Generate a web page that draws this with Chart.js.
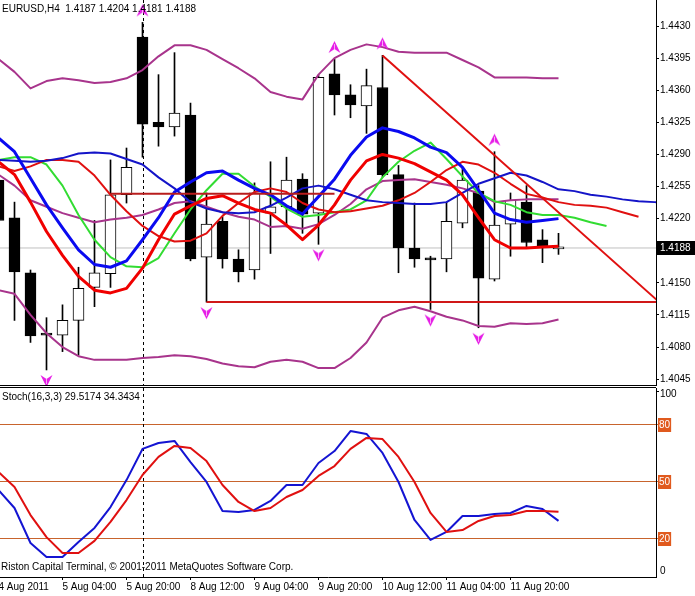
<!DOCTYPE html>
<html><head><meta charset="utf-8">
<script src="https://cdn.jsdelivr.net/npm/chart.js@4.4.0/dist/chart.umd.min.js"></script>
<style>
html,body{margin:0;padding:0;background:#fff;}
#wrap{position:relative;width:695px;height:596px;overflow:hidden;background:#fff;}
#main{position:absolute;left:0;top:0;}
#stoch{position:absolute;left:0;top:387px;}
</style></head><body>
<div id="wrap">
<canvas id="main" width="695" height="386"></canvas>
<canvas id="stoch" width="695" height="209"></canvas>
</div>
<script>
// ---------------- data ----------------
const symbolName = 'EURUSD,H4';
const barTimes = ['4 Aug 12:00','4 Aug 16:00','4 Aug 20:00','5 Aug 00:00','5 Aug 04:00','5 Aug 08:00','5 Aug 12:00','5 Aug 16:00','5 Aug 20:00',
 '8 Aug 00:00','8 Aug 04:00','8 Aug 08:00','8 Aug 12:00','8 Aug 16:00','8 Aug 20:00','9 Aug 00:00','9 Aug 04:00','9 Aug 08:00','9 Aug 12:00','9 Aug 16:00','9 Aug 20:00',
 '10 Aug 00:00','10 Aug 04:00','10 Aug 08:00','10 Aug 12:00','10 Aug 16:00','10 Aug 20:00','11 Aug 00:00','11 Aug 04:00','11 Aug 08:00','11 Aug 12:00','11 Aug 16:00','11 Aug 20:00',
 '12 Aug 00:00','12 Aug 04:00','12 Aug 08:00'];
const openP  = [1.4262,1.4221,1.4161,1.4094,1.4093,1.4109,1.4145,1.4160,1.4246,1.4418,1.4325,1.4320,1.4333,1.4178,1.4217,1.4176,1.4164,1.4226,1.4233,1.4263,1.4226,1.4378,1.4355,1.4343,1.4363,1.4268,1.4188,1.4177,1.4176,1.4215,1.4250,1.4154,1.4214,1.4238,1.4197,1.4187];
const highP  = [1.4275,1.4238,1.4164,1.4112,1.4126,1.4167,1.4218,1.4284,1.4297,1.4434,1.4377,1.4401,1.4346,1.4248,1.4222,1.4186,1.4259,1.4282,1.4287,1.4269,1.4376,1.4394,1.4366,1.4383,1.4398,1.4278,1.4237,1.4179,1.4238,1.4275,1.4256,1.4293,1.4248,1.4256,1.4208,1.4204];
const lowP   = [1.4210,1.4109,1.4085,1.4055,1.4075,1.4071,1.4124,1.4145,1.4237,1.4287,1.4299,1.4310,1.4174,1.4129,1.4166,1.4151,1.4154,1.4182,1.4211,1.4204,1.4192,1.4333,1.4330,1.4313,1.4265,1.4161,1.4167,1.4121,1.4162,1.4210,1.4101,1.4152,1.4179,1.4189,1.4172,1.4181];
const closeP = [1.4218,1.4162,1.4092,1.4093,1.4109,1.4144,1.4161,1.4246,1.4276,1.4323,1.4320,1.4335,1.4176,1.4214,1.4176,1.4162,1.4248,1.4233,1.4262,1.4225,1.4374,1.4355,1.4344,1.4365,1.4268,1.4188,1.4176,1.4175,1.4217,1.4262,1.4155,1.4213,1.4240,1.4194,1.4190,1.4188];

const bbUpper  = [1.4394,1.4380,1.4362,1.4370,1.4373,1.4371,1.4368,1.4369,1.4373,1.4382,1.4397,1.4409,1.4409,1.4404,1.4394,1.4384,1.4373,1.4358,1.4353,1.4350,1.4377,1.4395,1.4404,1.4410,1.4407,1.4402,1.4401,1.4401,1.4401,1.4393,1.4385,1.4374,1.4374,1.4374,1.4373,1.4373];
const bbMiddle = [1.4268,1.4256,1.4240,1.4233,1.4226,1.4221,1.4216,1.4219,1.4221,1.4224,1.4230,1.4237,1.4239,1.4233,1.4227,1.4222,1.4219,1.4211,1.4212,1.4209,1.4214,1.4224,1.4236,1.4252,1.4261,1.4262,1.4263,1.4260,1.4257,1.4253,1.4248,1.4238,1.4240,1.4241,1.4241,1.4241];
const bbLower  = [1.4142,1.4138,1.4115,1.4095,1.4080,1.4070,1.4066,1.4066,1.4066,1.4068,1.4069,1.4071,1.4070,1.4067,1.4062,1.4059,1.4058,1.4064,1.4066,1.4064,1.4057,1.4057,1.4068,1.4085,1.4112,1.4120,1.4124,1.4119,1.4113,1.4109,1.4103,1.4102,1.4106,1.4105,1.4106,1.4110];
const maBlue   = [1.4308,1.4293,1.4264,1.4235,1.4210,1.4186,1.4170,1.4167,1.4174,1.4197,1.4221,1.4249,1.4260,1.4270,1.4272,1.4262,1.4253,1.4246,1.4234,1.4225,1.4244,1.4263,1.4289,1.4309,1.4319,1.4315,1.4308,1.4298,1.4292,1.4276,1.4251,1.4226,1.4219,1.4216,1.4218,1.4220];
const maRed    = [1.4282,1.4268,1.4238,1.4206,1.4180,1.4157,1.4142,1.4139,1.4144,1.4166,1.4197,1.4225,1.4234,1.4242,1.4245,1.4237,1.4230,1.4226,1.4213,1.4197,1.4213,1.4235,1.4262,1.4283,1.4290,1.4286,1.4280,1.4271,1.4262,1.4246,1.4221,1.4197,1.4188,1.4188,1.4189,1.4190];
// Alligator lines, as displayed (already shifted forward)
const jaw   = [1.4284,1.4283,1.4282,1.4283,1.4286,1.4291,1.4292,1.4291,1.4285,1.4279,1.4265,1.4253,1.4238,1.4231,1.4227,1.4226,1.4227,1.4234,1.4243,1.4253,1.4256,1.4252,1.4246,1.4240,1.4238,1.4237,1.4236,1.4236,1.4238,1.4248,1.4258,1.4264,1.4270,1.4267,1.4260,1.4252,1.4250,1.4246,1.4244,1.4241,1.4239,1.4238,1.4237,1.4237];
const teeth = [1.4277,1.4272,1.4277,1.4284,1.4284,1.4282,1.4267,1.4246,1.4228,1.4212,1.4201,1.4195,1.4196,1.4204,1.4223,1.4237,1.4249,1.4253,1.4249,1.4237,1.4230,1.4227,1.4228,1.4231,1.4234,1.4240,1.4248,1.4260,1.4273,1.4282,1.4279,1.4270,1.4258,1.4247,1.4243,1.4238,1.4235,1.4234,1.4232,1.4227,1.4222];
const lips  = [1.4284,1.4287,1.4287,1.4279,1.4256,1.4224,1.4197,1.4178,1.4168,1.4167,1.4177,1.4204,1.4230,1.4251,1.4269,1.4269,1.4255,1.4244,1.4231,1.4222,1.4224,1.4227,1.4230,1.4240,1.4265,1.4282,1.4294,1.4303,1.4285,1.4266,1.4248,1.4239,1.4235,1.4227,1.4224,1.4224,1.4221,1.4216,1.4212];

const fractalUpBars   = [9, 21, 24, 31];
const fractalDownBars = [3, 13, 20, 27, 30];

const trendBars   = [24, 42];
const trendPrices = [1.4398, 1.4118];
const supportBars = [13, 44];
const supportPrice = 1.4129;
const resistBars  = [7, 21];
const resistPrice = 1.4247;
const bidPrice = 1.4188;
const separatorBar = 9;

const priceTicks = [1.4045,1.4080,1.4115,1.4150,1.4185,1.4220,1.4255,1.4290,1.4325,1.4360,1.4395,1.4430];
const timeTickBars   = [0,4,8,12,16,20,24,28,32];
const timeTickLabels = ['4 Aug 2011','5 Aug 04:00','5 Aug 20:00','8 Aug 12:00','9 Aug 04:00','9 Aug 20:00','10 Aug 12:00','11 Aug 04:00','11 Aug 20:00'];

const stochK = [45.8,36.3,17.9,10.5,10.5,18.4,25.8,36.8,51.0,67.4,70.5,71.6,60.5,50.0,34.7,34.2,35.3,40.0,48.4,48.4,60.0,66.3,76.8,75.3,65.3,50.0,30.0,19.5,23.7,32.1,32.1,33.2,33.7,37.4,35.8,29.5174];
const stochD = [55.3,47.4,32.6,21.0,12.6,12.6,19.0,29.0,40.5,53.7,63.2,69.0,67.9,61.0,48.4,39.5,34.7,36.3,42.1,45.8,53.2,58.4,67.4,73.2,72.6,63.2,50.0,33.7,23.7,24.7,29.5,32.1,32.6,34.7,34.7,34.3434];
const stochLevels = [20, 50, 80];
const stochParams = '16,3,3';
const copyright = 'Riston Capital Terminal, \u00A9 2001-2011 MetaQuotes Software Corp.';

// ---------------- view ----------------
const X_MIN = 0.09375, X_MAX = 41.09375;
const Y_MIN = 1.40375, Y_MAX = 1.44584;
const FONT = '"Liberation Sans", Arial, sans-serif';
Chart.defaults.font.family = FONT;
Chart.defaults.font.size = 10;
Chart.defaults.color = '#000';

const pts = arr => arr.map((v, j) => ({x: j, y: v}));
const seg = (bars, vals) => bars.map((b, k) => ({x: b, y: vals[k]}));

function arrowImg(up) {
  const c = document.createElement('canvas');
  c.width = 13; c.height = 48;
  const g = c.getContext('2d');
  g.translate(6.5, up ? 24 - 12 : 24 + 11);
  if (!up) g.scale(1, -1);
  g.beginPath();
  g.moveTo(0, -6); g.lineTo(6, 6); g.lineTo(0, 2); g.lineTo(-6, 6); g.closePath();
  g.fillStyle = '#E61EE6'; g.fill();
  g.strokeStyle = '#F7A8F7'; g.lineWidth = 1;
  g.beginPath(); g.moveTo(0, -3); g.lineTo(0, 2); g.stroke();
  return c;
}
const upArrow = arrowImg(true), downArrow = arrowImg(false);

const lineDs = (data, color, width, order) => ({type: 'line', data, borderColor: color, borderWidth: width,
  pointRadius: 0, tension: 0, fill: false, order, clip: 0, borderJoinStyle: 'round'});

const mainDecor = {
  id: 'mainDecor',
  beforeDatasetsDraw(chart) {
    const {ctx, chartArea: ca, scales: {x}} = chart;
    const sx = Math.round(x.getPixelForValue(separatorBar)) + 0.5;
    ctx.save(); ctx.strokeStyle = '#000'; ctx.lineWidth = 1; ctx.setLineDash([3, 3]);
    ctx.beginPath(); ctx.moveTo(sx, ca.top); ctx.lineTo(sx, ca.bottom); ctx.stroke(); ctx.restore();
  },
  afterDraw(chart) {
    const {ctx, chartArea: ca, scales: {y}} = chart;
    ctx.save();
    const last = openP.length - 1;
    ctx.font = '10px ' + FONT; ctx.fillStyle = '#000'; ctx.textBaseline = 'middle'; ctx.textAlign = 'left';
    ctx.fillText(symbolName + '  ' + [openP[last], highP[last], lowP[last], closeP[last]].map(v => v.toFixed(4)).join(' '), 2, 9);
    const by = Math.round(y.getPixelForValue(bidPrice));
    ctx.fillStyle = '#000'; ctx.fillRect(ca.right + 1, by - 7, 38, 14);
    ctx.fillStyle = '#fff'; ctx.fillText(bidPrice.toFixed(4), ca.right + 4, by);
    ctx.strokeStyle = '#000'; ctx.lineWidth = 1;
    ctx.beginPath(); ctx.moveTo(0, ca.bottom - 0.5); ctx.lineTo(ca.right, ca.bottom - 0.5); ctx.stroke();
    ctx.restore();
  }
};

new Chart(document.getElementById('main'), {
  type: 'bar',
  data: { datasets: [
    lineDs([{x: X_MIN - 1, y: bidPrice}, {x: X_MAX + 1, y: bidPrice}], '#C0C0C0', 1, 100),
    {type: 'bar', data: barTimes.map((t, j) => ({x: j, y: [lowP[j], highP[j]]})), backgroundColor: '#000', borderWidth: 0,
      barThickness: 1, grouped: false, order: 90, clip: 0},
    {type: 'bar', data: barTimes.map((t, j) => ({x: j, y: [Math.min(openP[j], closeP[j]), Math.max(openP[j], closeP[j])]})),
      backgroundColor: barTimes.map((t, j) => closeP[j] >= openP[j] ? '#FFFFFF' : '#000000'),
      borderColor: '#000', borderWidth: 1, borderSkipped: false, barThickness: 11, minBarLength: 2, grouped: false, order: 80, clip: 0},
    lineDs(pts(bbUpper), '#A8348C', 2, 50),
    lineDs(pts(bbMiddle), '#A8348C', 2, 50),
    lineDs(pts(bbLower), '#A8348C', 2, 50),
    lineDs(pts(jaw), '#1414C8', 2, 40),
    lineDs(pts(teeth), '#E01010', 2, 40),
    lineDs(pts(lips), '#32DC32', 2, 40),
    lineDs(pts(maRed), '#F00000', 3, 31),
    lineDs(pts(maBlue), '#0A0AF0', 3, 30),
    lineDs(seg(resistBars, [resistPrice, resistPrice]), '#B81C1C', 2, 20),
    lineDs(seg(supportBars, [supportPrice, supportPrice]), '#D01818', 2, 20),
    lineDs(seg(trendBars, trendPrices), '#E01010', 2, 20),
    {type: 'line', data: fractalUpBars.map(b => ({x: b, y: highP[b]})), showLine: false, pointStyle: upArrow, order: 10, clip: false},
    {type: 'line', data: fractalDownBars.map(b => ({x: b, y: lowP[b]})), showLine: false, pointStyle: downArrow, order: 10, clip: false}
  ]},
  options: {
    responsive: false, animation: false, events: [],
    layout: {padding: 0, autoPadding: false},
    plugins: {legend: {display: false}, tooltip: {enabled: false}},
    scales: {
      x: {type: 'linear', display: false, min: X_MIN, max: X_MAX, offset: false, grid: {offset: false}},
      y: {type: 'linear', position: 'right', min: Y_MIN, max: Y_MAX, beginAtZero: false,
        afterBuildTicks: s => { s.ticks = priceTicks.map(v => ({value: v})); },
        afterFit: s => { s.width = 39; s.paddingTop = 0; s.paddingBottom = 0; },
        ticks: {callback: v => Number(v).toFixed(4), padding: 1, autoSkip: false, color: '#000'},
        grid: {drawOnChartArea: false, drawTicks: true, tickLength: 3, color: '#000'},
        border: {display: true, color: '#000', width: 1}}
    }
  },
  plugins: [mainDecor]
});

const stochDecor = {
  id: 'stochDecor',
  beforeDatasetsDraw(chart) {
    const {ctx, chartArea: ca, scales: {x}} = chart;
    const sx = Math.round(x.getPixelForValue(separatorBar)) + 0.5;
    ctx.save(); ctx.strokeStyle = '#000'; ctx.lineWidth = 1; ctx.setLineDash([3, 3]);
    ctx.beginPath(); ctx.moveTo(sx, ca.top); ctx.lineTo(sx, ca.bottom); ctx.stroke(); ctx.restore();
  },
  afterDraw(chart) {
    const {ctx, chartArea: ca} = chart;
    ctx.save();
    ctx.strokeStyle = '#000'; ctx.lineWidth = 1;
    ctx.beginPath(); ctx.moveTo(0, 0.5); ctx.lineTo(ca.right, 0.5); ctx.stroke();
    ctx.beginPath(); ctx.moveTo(ca.right, ca.top + 3.5); ctx.lineTo(ca.right + 3, ca.top + 3.5); ctx.stroke();
    ctx.font = '10px ' + FONT; ctx.fillStyle = '#000'; ctx.textBaseline = 'middle'; ctx.textAlign = 'left';
    const n = stochK.length - 1;
    ctx.fillText('Stoch(' + stochParams + ') ' + stochK[n].toFixed(4) + ' ' + stochD[n].toFixed(4), 2, 10);
    ctx.fillText(copyright, 1, ca.bottom - 10);
    ctx.fillText('100', ca.right + 4, ca.top + 6);
    ctx.fillText('0', ca.right + 4, ca.bottom - 6);
    ctx.restore();
  }
};

new Chart(document.getElementById('stoch'), {
  type: 'line',
  data: { datasets: [
    lineDs(pts(stochK), '#1414D2', 2, 20),
    lineDs(pts(stochD), '#E01010', 2, 10)
  ]},
  options: {
    responsive: false, animation: false, events: [],
    layout: {padding: {top: 1, left: 0, right: 0, bottom: 0}, autoPadding: false},
    plugins: {legend: {display: false}, tooltip: {enabled: false}},
    scales: {
      x: {type: 'linear', position: 'bottom', min: X_MIN, max: X_MAX, offset: false,
        afterBuildTicks: s => { s.ticks = timeTickBars.map(v => ({value: v})); },
        afterFit: s => { s.height = 19; s.paddingLeft = 0; s.paddingRight = 0; },
        ticks: {callback: (v, i) => timeTickLabels[i], align: 'start', maxRotation: 0, minRotation: 0, autoSkip: false, padding: 1, color: '#000'},
        grid: {drawOnChartArea: false, drawTicks: true, tickLength: 3, color: '#000'},
        border: {display: true, color: '#000', width: 1}},
      y: {type: 'linear', position: 'right', min: 0, max: 99.47,
        afterBuildTicks: s => { s.ticks = stochLevels.map(v => ({value: v})); },
        afterFit: s => { s.width = 39; s.paddingTop = 0; s.paddingBottom = 0; },
        ticks: {callback: v => String(v), color: '#FFFFFF', showLabelBackdrop: true, backdropColor: '#E05A1E', backdropPadding: 1, padding: 0, autoSkip: false},
        grid: {color: '#C8642D', lineWidth: 1, drawTicks: true, tickLength: 3},
        border: {display: true, color: '#000', width: 1}}
    }
  },
  plugins: [stochDecor]
});
</script>
</body></html>
